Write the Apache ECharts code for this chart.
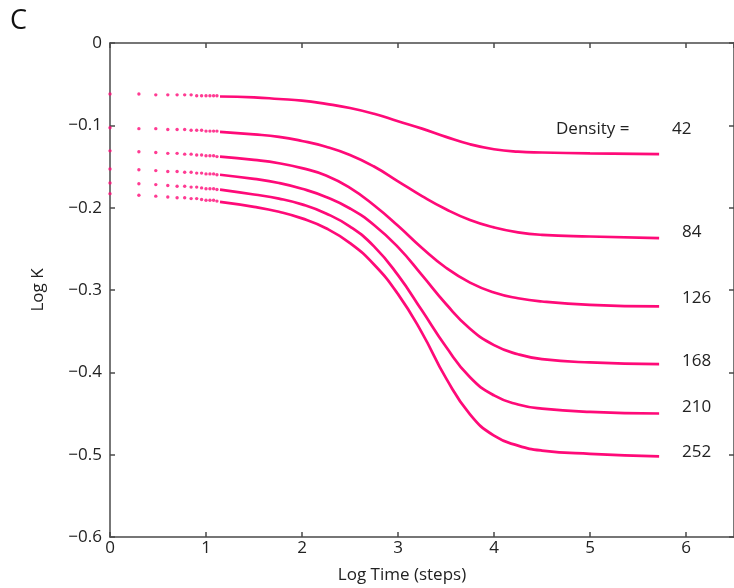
<!DOCTYPE html>
<html>
<head>
<meta charset="utf-8">
<script src="https://cdn.jsdelivr.net/npm/echarts@6/dist/echarts.min.js"></script>
<style>
html, body { margin: 0; padding: 0; background: #fff; }
#main { width: 734px; height: 588px; }
</style>
</head>
<body>
<div id="main"></div>
<script>
// densities, one curve each
var densities = ['42', '84', '126', '168', '210', '252'];

// first steps are drawn as separate dots (log10 of step 1..13)
var dotX = [0, 0.301, 0.477, 0.602, 0.699, 0.778, 0.845, 0.903, 0.954, 1.0, 1.041, 1.079, 1.114];
var dotY = [
	[-0.062, -0.062, -0.063, -0.063, -0.063, -0.063, -0.063, -0.064, -0.064, -0.064, -0.064, -0.064, -0.064],
	[-0.103, -0.104, -0.104, -0.105, -0.105, -0.105, -0.106, -0.106, -0.106, -0.107, -0.107, -0.107, -0.107],
	[-0.131, -0.132, -0.133, -0.134, -0.134, -0.135, -0.135, -0.136, -0.136, -0.137, -0.137, -0.137, -0.138],
	[-0.153, -0.154, -0.155, -0.156, -0.156, -0.157, -0.157, -0.158, -0.158, -0.159, -0.159, -0.159, -0.160],
	[-0.170, -0.171, -0.172, -0.173, -0.174, -0.174, -0.175, -0.175, -0.176, -0.177, -0.177, -0.177, -0.178],
	[-0.183, -0.185, -0.186, -0.187, -0.188, -0.188, -0.189, -0.189, -0.190, -0.191, -0.191, -0.191, -0.192]
];

// after that the points are dense enough to read as a line
var lineX = [1.146, 1.5, 1.76, 2.0, 2.25, 2.5, 2.75, 3.0, 3.25, 3.5, 3.75, 4.0, 4.25, 4.5, 5.0, 5.72];
var lineY = [
	[-0.065, -0.066, -0.068, -0.070, -0.074, -0.079, -0.086, -0.095, -0.104, -0.114, -0.123, -0.129, -0.132, -0.133, -0.134, -0.135],
	[-0.108, -0.111, -0.114, -0.119, -0.126, -0.136, -0.150, -0.168, -0.186, -0.202, -0.215, -0.224, -0.230, -0.233, -0.235, -0.237],
	[-0.138, -0.142, -0.146, -0.152, -0.161, -0.176, -0.197, -0.222, -0.249, -0.273, -0.291, -0.303, -0.310, -0.314, -0.318, -0.320],
	[-0.160, -0.165, -0.170, -0.177, -0.187, -0.201, -0.221, -0.248, -0.282, -0.317, -0.347, -0.367, -0.378, -0.384, -0.388, -0.390],
	[-0.178, -0.184, -0.189, -0.196, -0.207, -0.223, -0.247, -0.282, -0.325, -0.369, -0.406, -0.428, -0.439, -0.444, -0.448, -0.450],
	[-0.193, -0.199, -0.205, -0.213, -0.225, -0.243, -0.269, -0.305, -0.352, -0.407, -0.451, -0.477, -0.489, -0.495, -0.499, -0.502]
];

var xTicks = ['0', '1', '2', '3', '4', '5', '6'];
var yTicks = ['0', '−0.1', '−0.2', '−0.3', '−0.4', '−0.5', '−0.6'];

var pink = '#ff0a78';
var axisColor = '#4a4a4a';
var font = 'Open Sans';

function zip(xs, ys) {
	var out = [];
	for (var i = 0; i < xs.length; i++) out.push([xs[i], ys[i]]);
	return out;
}

var series = [];
for (var k = 0; k < densities.length; k++) {
	series.push({
		name: densities[k] + ' dots',
		type: 'scatter',
		symbol: 'circle',
		symbolSize: 3.4,
		itemStyle: { color: pink },
		data: zip(dotX, dotY[k]),
		clip: false,
		silent: true,
		z: 10
	});
	series.push({
		name: densities[k],
		type: 'line',
		smooth: 0.5,
		showSymbol: false,
		lineStyle: { color: pink, width: 2.7 },
		data: zip(lineX, lineY[k]),
		silent: true,
		z: 3
	});
}

// labels on the right, same place as in the figure
var labelPos = [[672, 129], [682, 232], [682, 298], [682, 361], [682, 407], [682, 452]];
var graphics = [
	{ type: 'text', left: 10, top: 8, style: { text: 'C', fontSize: 27, fontFamily: font, fill: '#111' } },
	{ type: 'text', x: 556, y: 129, style: { text: 'Density =', fontSize: 17, fontFamily: font, fill: '#222', verticalAlign: 'middle' } },
	{ type: 'text', x: 402, y: 575, style: { text: 'Log Time (steps)', fontSize: 17, fontFamily: font, fill: '#222', align: 'center', verticalAlign: 'middle' } },
	{ type: 'text', x: 38, y: 290, rotation: Math.PI / 2, style: { text: 'Log K', fontSize: 17, fontFamily: font, fill: '#222', align: 'center', verticalAlign: 'middle' } }
];
for (var j = 0; j < densities.length; j++) {
	graphics.push({
		type: 'text', x: labelPos[j][0], y: labelPos[j][1],
		style: { text: densities[j], fontSize: 17, fontFamily: font, fill: '#222', verticalAlign: 'middle' }
	});
}

// fresh objects for every axis, ticks pointing into the plot
function frame(base, pos, labels) {
	var ax = {
		type: 'value', position: pos,
		axisLine: { show: true, onZero: false, lineStyle: { color: axisColor, width: 1.5 } },
		axisTick: { show: true, inside: true, length: 5, lineStyle: { color: axisColor, width: 1.5 } },
		splitLine: { show: false },
		axisLabel: labels || { show: false }
	};
	for (var key in base) ax[key] = base[key];
	return ax;
}

var option = {
	animation: false,
	backgroundColor: '#fff',
	grid: { left: 110, top: 43, width: 627, height: 494 },
	xAxis: [
		frame({ min: 0, max: 6.5, interval: 1 }, 'bottom', {
			showMaxLabel: false, fontSize: 17, fontFamily: font, color: '#222', margin: 3,
			formatter: function (v) { return xTicks[Math.round(v)] || ''; }
		}),
		frame({ min: 0, max: 6.5, interval: 1 }, 'top')
	],
	yAxis: [
		frame({ min: -0.6, max: 0, interval: 0.1 }, 'left', {
			fontSize: 17, fontFamily: font, color: '#222', margin: 8,
			formatter: function (v) { return yTicks[Math.round(-v * 10)]; }
		}),
		frame({ min: -0.6, max: 0, interval: 0.1 }, 'right')
	],
	graphic: graphics,
	series: series
};

var chart = echarts.init(document.getElementById('main'));
chart.setOption(option);
</script>
</body>
</html>
